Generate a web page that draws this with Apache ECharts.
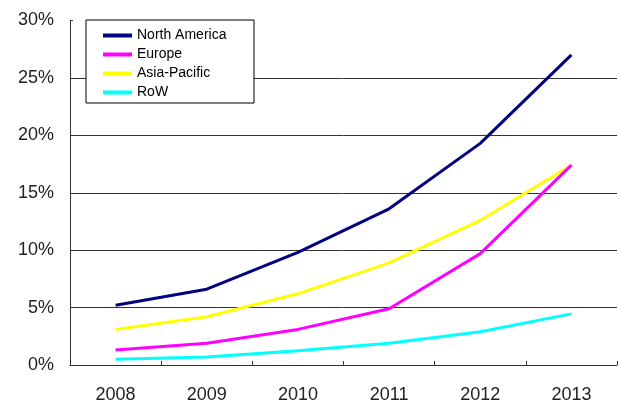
<!DOCTYPE html>
<html>
<head>
<meta charset="utf-8">
<script src="https://cdn.jsdelivr.net/npm/echarts@6/dist/echarts.min.js"></script>
<style>
html,body{margin:0;padding:0;background:#fff;}
#chart{width:618px;height:407px;}
</style>
</head>
<body>
<div id="chart"></div>
<script>
const years = ['2008', '2009', '2010', '2011', '2012', '2013'];
const northAmerica = [5.2, 6.6, 9.8, 13.6, 19.3, 27.0];
const europe = [1.3, 1.9, 3.1, 4.9, 9.7, 17.4];
const asiaPacific = [3.1, 4.2, 6.2, 8.9, 12.6, 17.4];
const row = [0.5, 0.7, 1.25, 1.9, 2.9, 4.45];
const yTicks = [0, 5, 10, 15, 20, 25, 30];

const chart = echarts.init(document.getElementById('chart'));
const font = '"Liberation Sans", Arial, sans-serif';
function mk(name, data, color, z) {
  return {
    name: name, type: 'line', data: data, symbol: 'none', z: z,
    lineStyle: { color: color, width: 3 }, itemStyle: { color: color },
    emphasis: { disabled: true }
  };
}
chart.setOption({
  animation: false,
  backgroundColor: '#fff',
  grid: { left: 70, right: 1, top: 20.5, bottom: 42, containLabel: false },
  legend: {
    orient: 'vertical', left: 86, top: 20,
    padding: [8, 14, 3, 17],
    borderColor: '#000', borderWidth: 1, backgroundColor: '#fff',
    icon: 'rect', itemWidth: 29, itemHeight: 4, itemGap: 4,
    textStyle: { fontFamily: font, fontSize: 14, color: '#000', lineHeight: 15, width: 103, overflow: 'none' },
    data: ['North America', 'Europe', 'Asia-Pacific', 'RoW']
  },
  xAxis: {
    type: 'category', data: years, boundaryGap: true,
    axisLine: { lineStyle: { color: '#333', width: 1 } },
    axisTick: { show: true, inside: true, length: 4, alignWithLabel: false, lineStyle: { color: '#333' } },
    axisLabel: { fontFamily: font, fontSize: 18, color: '#222', margin: 21 }
  },
  yAxis: {
    type: 'value', min: yTicks[0], max: yTicks[yTicks.length - 1], interval: 5,
    axisLine: { show: true, lineStyle: { color: '#333', width: 1 } },
    axisTick: { show: true, inside: true, length: 3, lineStyle: { color: '#333' } },
    axisLabel: { fontFamily: font, fontSize: 18, color: '#222', margin: 16, formatter: '{value}%' },
    splitLine: { show: true, lineStyle: { color: ['#333', '#333', '#333', '#333', '#333', '#333', 'rgba(0,0,0,0)'], width: 1 } }
  },
  series: [
    mk('North America', northAmerica, '#000080', 4),
    mk('Europe', europe, '#FF00FF', 3),
    mk('Asia-Pacific', asiaPacific, '#FFFF00', 2),
    mk('RoW', row, '#00FFFF', 2)
  ]
});
</script>
</body>
</html>
